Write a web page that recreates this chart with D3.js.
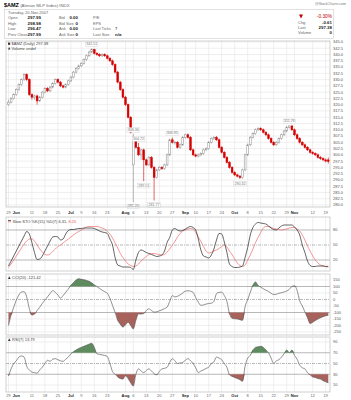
<!DOCTYPE html>
<html>
<head>
<meta charset="utf-8">
<script src="https://cdn.jsdelivr.net/npm/d3@7"></script>
<style>
body { margin: 0; background: #fff; }
svg text { font-family: "Liberation Sans", Arial, sans-serif; }
</style>
</head>
<body>
<script>
// ---- data ----
const tickIdx = [0, 3, 9, 14, 19, 24, 28, 33, 38, 45, 48, 53, 58, 63, 68, 72, 77, 82, 87, 92, 97, 102, 107, 110, 117, 122]
const tickLabels = ["29", "Jun", "11", "18", "25", "Jul", "9", "16", "23", "Aug", "6", "13", "20", "27", "Sep", "10", "17", "24", "Oct", "8", "15", "22", "29", "Nov", "12", "19"]
const monthLabels = ["Jun", "Jul", "Aug", "Sep", "Oct", "Nov"]

const open = [320, 321, 322.5, 324, 326, 328, 330, 332, 330, 324, 323, 323.5, 321.5, 323, 325, 326.5, 325.5, 327, 328.5, 330,
  329, 327.5, 327, 328, 329.5, 331, 333, 334.5, 335.5, 336.5, 338, 339.5, 341, 342, 340.5, 340, 339.5, 340, 339.5, 338.5,
  337.5, 336, 333, 329, 326, 323, 320, 315, 296, 306, 303, 300, 302, 298, 296, 299, 295, 291, 294, 295,
  294.5, 296, 300, 306, 305, 305, 303, 304, 307, 308, 307, 302, 300, 299.5, 300, 300.5, 302, 302.5, 305, 306.5,
  307, 306, 303, 301, 299, 297, 295, 293, 292, 291.5, 291, 294, 300, 304, 307, 308.5, 310, 310.5, 310, 309,
  308, 306.5, 305, 304, 305, 306.5, 308, 309.5, 311, 311.5, 310, 308, 306.5, 305, 304, 303, 302, 301, 300.5, 300,
  299, 298.5, 298, 297.99]
const high = [322, 323, 324.5, 326.5, 328.5, 330.5, 332.5, 332.5, 330.5, 324.5, 324, 324, 323.5, 325.5, 327, 327, 327.5, 329, 330.5, 330.5,
  329.5, 328, 328.5, 330, 331.5, 333.5, 335, 336, 337, 338.5, 340, 341.5, 342.51, 342.3, 341, 340.5, 340.5, 340.5, 340, 339,
  338, 336.5, 333.5, 329.5, 326.5, 323.5, 320.5, 315.5, 308.36, 306.5, 304.72, 302.5, 302.5, 298.5, 299.5, 299.5, 295.5, 294.5, 295.5, 295.5,
  296.5, 300.5, 306.5, 306.9, 305.5, 305.5, 304.5, 307.5, 308.5, 308.5, 307.5, 302.5, 300.5, 300.5, 301, 302.5, 303, 305.5, 307, 307.5,
  307.5, 306.5, 303.5, 301.5, 299.5, 297.5, 295.5, 293.5, 292.5, 292, 294.5, 300.5, 304.5, 307.5, 309, 310.5, 311, 311, 310.5, 309.5,
  308.5, 307, 305.5, 305.5, 307, 308.5, 310, 311.5, 311.76, 312, 310.5, 308.5, 307, 305.5, 304.5, 303.5, 302.5, 301.5, 301, 300.5,
  299.5, 299, 298.5, 298.98]
const low = [319.5, 320.5, 322, 323.5, 325.5, 327.5, 329.5, 329.5, 323.5, 322, 322, 320, 321, 322.5, 324.5, 325, 325, 326.5, 328, 328.5,
  327, 326.5, 326.5, 327.5, 329, 330.5, 332.5, 334, 335, 336, 337.5, 339, 340.5, 340, 339.5, 339, 339, 339, 338, 337,
  335.5, 332.5, 328.5, 325.5, 322.5, 319.5, 314.5, 308.5, 281.2, 302.5, 299.5, 298, 289.51, 295.5, 295.5, 294.5, 281.77, 290.5, 293.5, 294,
  294, 295.5, 299.5, 304.5, 304, 302.5, 302.5, 303.5, 306.5, 306.5, 301.5, 299.5, 299, 299, 299.5, 300, 301.5, 302, 304.5, 306,
  305.5, 302.5, 300.5, 298.5, 296.5, 294.5, 292.5, 291.5, 291, 290.32, 290.5, 293.5, 299.5, 303.5, 306.5, 308, 309.5, 309.5, 308.5, 307.5,
  306, 304.5, 303.5, 303.5, 304.5, 306, 307.5, 309, 310.5, 309.5, 307.5, 306, 304.5, 303.5, 302.5, 301.5, 300.5, 300, 299.5, 298.5,
  298, 297.5, 297, 296.47]
const close = [321, 322.5, 324, 326, 328, 330, 332, 330, 324, 323, 323.5, 321.5, 323, 325, 326.5, 325.5, 327, 328.5, 330, 329,
  327.5, 327, 328, 329.5, 331, 333, 334.5, 335.5, 336.5, 338, 339.5, 341, 342, 340.5, 340, 339.5, 340, 339.5, 338.5, 337.5,
  336, 333, 329, 326, 323, 320, 315, 309, 306, 303, 300, 302, 298, 296, 299, 295, 291, 294, 295, 294.5,
  296, 300, 306, 305, 305, 303, 304, 307, 308, 307, 302, 300, 299.5, 300, 300.5, 302, 302.5, 305, 306.5, 307,
  306, 303, 301, 299, 297, 295, 293, 292, 291.5, 291, 294, 300, 304, 307, 308.5, 310, 310.5, 310, 309, 308,
  306.5, 305, 304, 305, 306.5, 308, 309.5, 311, 311.5, 310, 308, 306.5, 305, 304, 303, 302, 301, 300.5, 300, 299,
  298.5, 298, 297.5, 297.38]

// price labels printed on the chart
const noteIdx = [32, 48, 48, 50, 52, 56, 63, 89, 108]
const noteVal = [342.51, 308.36, 281.20, 304.72, 289.51, 281.77, 306.95, 290.32, 311.76]
const noteSide = ["up", "up", "down", "up", "down", "down", "up", "down", "up"]

const stoK = [8, 18, 28, 38, 48, 58, 68, 77, 72, 55, 35, 21, 22, 28, 38, 48, 58, 66, 67, 66,
  60, 62, 72, 79, 81, 81, 82, 83, 83, 84, 84, 84, 84, 83, 81, 78, 76, 75, 73, 62,
  50, 25, 10, 8, 6, 6, 6, 5, 1, 20, 35, 40, 38, 35, 33, 31, 29, 27, 28, 30,
  38, 55, 65, 80, 83, 80, 78, 79, 82, 85, 87, 85, 80, 62, 40, 28, 26, 24, 30, 42,
  60, 73, 72, 56, 35, 12, 7, 5, 5, 6, 8, 25, 45, 70, 85, 92, 95, 94, 93, 92,
  88, 84, 81, 80, 84, 88, 90, 90, 90, 90, 86, 80, 70, 50, 35, 18, 9, 7, 7, 8,
  8, 8, 7, 6.31]
const stoD = [5, 12, 20, 28, 36, 44, 52, 58, 62, 62, 58, 50, 42, 36, 31, 30, 32, 37, 42, 47,
  50, 54, 58, 62, 66, 70, 74, 77, 80, 83, 86, 87, 87, 87, 87, 86, 84, 82, 77, 72,
  64, 54, 44, 33, 25, 18, 12, 9, 7, 8, 12, 18, 23, 27, 31, 33, 33, 32, 31, 30,
  31, 36, 42, 50, 57, 66, 73, 78, 80, 82, 83, 82, 75, 66, 57, 47, 38, 34, 35, 38,
  40, 43, 47, 50, 46, 38, 31, 22, 14, 9, 7, 10, 20, 30, 42, 55, 65, 75, 84, 87,
  87, 85, 83, 82, 81, 80, 81, 82, 84, 85, 85, 82, 78, 70, 60, 48, 38, 28, 20, 14,
  10, 8, 7, 8.2]
const cci = [-200, -120, -60, -5, 35, 58, 60, 20, -70, -120, -112, -85, -60, -30, -5, 20, 46, 68, 55, 35,
  10, 30, 55, 80, 110, 130, 150, 160, 155, 152, 147, 140, 128, 112, 100, 85, 72, 60, 48, 10,
  -45, -100, -160, -190, -212, -195, -175, -200, -226, -160, -110, -112, -108, -85, -72, -85, -97, -95, -87, -80,
  -70, -59, -15, 30, 20, 25, 36, 50, 65, 67, 64, 55, 15, -20, -45, -42, -35, -31, -28, -15,
  45, 55, 56, 30, -15, -110, -145, -148, -150, -155, -160, -55, 0, 55, 110, 135, 108, 95, 82, 72,
  62, 48, 38, 40, 48, 52, 58, 65, 78, 100, 105, 70, -10, -50, -95, -140, -185, -175, -162, -150,
  -140, -132, -125, -121.42]
const rsi = [27, 40, 50, 55, 62, 64, 62, 45, 38, 34, 33, 32, 38, 43, 50, 56, 54, 58, 59, 57,
  55, 54, 58, 62, 68, 72, 75, 78, 80, 82, 84, 86, 87.5, 80, 68, 67, 66, 65, 63, 50,
  35, 30, 25, 22, 21, 27, 22, 14, 8, 30, 40, 36, 33, 37, 40, 36, 31, 29, 35, 40,
  41, 43, 52, 59, 55, 50, 51, 52, 56, 59, 55, 50, 42, 33, 36, 38, 41, 43, 50, 53,
  62, 60, 57, 50, 43, 29, 26, 24, 22, 20, 17, 45, 60, 65, 75, 80, 81, 82, 80, 75,
  70, 60, 50, 55, 57, 62, 68, 75, 70, 75, 65, 58, 47, 42, 40, 33, 29, 25, 24, 22,
  21, 18, 16, 13.79]

// ---- layout ----
const W = 351, H = 400
const L = 6, R = 330
const pricePane = { top: 41, bottom: 207 }
const stoPane = { top: 217, bottom: 271 }
const cciPane = { top: 274, bottom: 335 }
const rsiPane = { top: 337, bottom: 392 }
const grid = "#e4e4e4", frame = "#bdbdbd", axisText = "#555"

const svg = d3.select("body").append("svg")
  .attr("width", W)
  .attr("height", H)

const x = d3.scaleLinear().domain([0, close.length - 1]).range([8.5, 328.3])

// header
const head = svg.append("text").attr("x", 4).attr("y", 7).attr("font-size", 5.5)
head.append("tspan").attr("font-weight", "bold").text("$AMZ")
head.append("tspan").attr("fill", "#666").attr("font-size", 4.3).text(" (Alerian MLP Index) INDX")
svg.append("text").attr("x", 346).attr("y", 5).attr("text-anchor", "end")
  .attr("font-size", 3.6).attr("fill", "#777").text("@StockCharts.com")

// info box
svg.append("rect").attr("x", 4.5).attr("y", 9.5).attr("width", 329).attr("height", 29)
  .attr("fill", "#fff").attr("stroke", "#ccc").attr("stroke-width", 0.6)
svg.append("text").attr("x", 8).attr("y", 13.5).attr("font-size", 4).attr("fill", "#666").text("Tuesday, 20-Nov-2007")

const infoRows = [
  ["Open", "297.99", "Bid", "0.00", "P/E", ""],
  ["High", "298.98", "Bid Size", "0", "EPS", ""],
  ["Low", "296.47", "Ask", "0.00", "Last Ticks", "\u2020"],
  ["Prev Close", "297.99", "Ask Size", "0", "Last Size", "n/a"]
]
infoRows.forEach((r, k) => {
  const yy = 19.3 + k * 5.4
  svg.append("text").attr("x", 8).attr("y", yy).attr("font-size", 4).attr("fill", "#666").text(r[0])
  svg.append("text").attr("x", 41).attr("y", yy).attr("font-size", 4.4).attr("font-weight", "bold")
    .attr("text-anchor", "end").attr("fill", "#222").text(r[1])
  svg.append("text").attr("x", 59).attr("y", yy).attr("font-size", 4).attr("fill", "#666").text(r[2])
  svg.append("text").attr("x", 78).attr("y", yy).attr("font-size", 4.4).attr("font-weight", "bold")
    .attr("text-anchor", "end").attr("fill", "#222").text(r[3])
  svg.append("text").attr("x", 93).attr("y", yy).attr("font-size", 4).attr("fill", "#666").text(r[4])
  svg.append("text").attr("x", 115).attr("y", yy).attr("font-size", 4.4).attr("font-weight", "bold")
    .attr("fill", "#222").text(r[5])
})
// change block at right
svg.append("path").attr("d", "M299,14.5 L303,14.5 L301,18.5 Z").attr("fill", "#b00")
svg.append("text").attr("x", 332).attr("y", 18.2).attr("text-anchor", "end").attr("font-size", 4.8)
  .attr("fill", "#b00").text("-0.30%")
const chgRows = [["Chg", "-0.61"], ["Last", "297.38"], ["Volume", "0"]]
chgRows.forEach((r, k) => {
  const yy = 23.5 + k * 5.2
  svg.append("text").attr("x", 298).attr("y", yy).attr("font-size", 4).attr("fill", "#666").text(r[0])
  svg.append("text").attr("x", 332).attr("y", yy).attr("text-anchor", "end").attr("font-size", 4.4)
    .attr("font-weight", "bold").attr("fill", "#222").text(r[1])
})

// generic pane with horizontal grid + right labels
function pane(p, y, ticks, fmt, solid, dashed) {
  const g = svg.append("g")
  g.append("rect").attr("x", L).attr("y", p.top).attr("width", R - L).attr("height", p.bottom - p.top)
    .attr("fill", "#fff")
  g.selectAll(".vg").data(tickIdx).join("line")
    .attr("x1", d => x(d)).attr("x2", d => x(d))
    .attr("y1", p.top).attr("y2", p.bottom)
    .attr("stroke", grid).attr("stroke-width", 0.6)
  g.selectAll(".hg").data(ticks).join("line")
    .attr("x1", L).attr("x2", R)
    .attr("y1", d => y(d)).attr("y2", d => y(d))
    .attr("stroke", d => solid.includes(d) ? "#9a9a9a" : grid)
    .attr("stroke-width", d => solid.includes(d) ? 0.7 : 0.6)
  if (dashed !== undefined) {
    g.append("line").attr("x1", L).attr("x2", R)
      .attr("y1", y(dashed)).attr("y2", y(dashed))
      .attr("stroke", "#8a8a8a").attr("stroke-width", 0.6).attr("stroke-dasharray", "3,1,1,1")
  }
  g.selectAll(".lb").data(ticks).join("text")
    .attr("x", R + 3).attr("y", d => y(d) + 1.4)
    .attr("font-size", 4).attr("fill", axisText).text(fmt)
  return g
}
function frameRect(p) {
  svg.append("rect").attr("x", L).attr("y", p.top).attr("width", R - L).attr("height", p.bottom - p.top)
    .attr("fill", "none").attr("stroke", frame).attr("stroke-width", 0.7)
}

// ---- price pane ----
const yP = d3.scaleLinear().domain([280, 345]).range([205, 42])
const priceTicks = d3.range(280, 345.1, 2.5)
pane(pricePane, yP, priceTicks, d => d.toFixed(1), [])

const candles = svg.append("g")
close.forEach((c, i) => {
  const o = open[i]
  const down = c < o
  const col = down ? "#d40000" : "#8a8a8a"
  candles.append("line")
    .attr("x1", x(i)).attr("x2", x(i))
    .attr("y1", yP(high[i])).attr("y2", yP(low[i]))
    .attr("stroke", col).attr("stroke-width", 0.6)
  const top = yP(Math.max(o, c)), bot = yP(Math.min(o, c))
  candles.append("rect")
    .attr("x", x(i) - 0.9).attr("width", 1.8)
    .attr("y", top).attr("height", Math.max(0.6, bot - top))
    .attr("fill", down ? "#d40000" : "#fff")
    .attr("stroke", col).attr("stroke-width", 0.5)
})

noteIdx.forEach((k, j) => {
  const up = noteSide[j] === "up"
  const ty = up ? yP(noteVal[j]) - 3 : yP(noteVal[j]) + 5.5
  const t = svg.append("text").attr("x", x(k)).attr("y", ty).attr("text-anchor", "middle")
    .attr("font-size", 3.6).attr("fill", "#777").text(noteVal[j].toFixed(2))
  const bb = t.node().getBBox()
  svg.insert("rect", () => t.node())
    .attr("x", bb.x - 0.8).attr("y", bb.y - 0.3).attr("width", bb.width + 1.6).attr("height", bb.height + 0.6)
    .attr("fill", "#fff").attr("stroke", "#ccc").attr("stroke-width", 0.4)
})
frameRect(pricePane)

svg.append("rect").attr("x", 8).attr("y", 42.6).attr("width", 2.2).attr("height", 2.2).attr("fill", "#333")
svg.append("text").attr("x", 11.5).attr("y", 45).attr("font-size", 4).attr("fill", "#444").text("$AMZ (Daily) 297.38")
svg.append("path").attr("d", "M8,49.5 L9.2,47 L10.4,49.5 Z").attr("fill", "#333")
svg.append("text").attr("x", 11.5).attr("y", 49.5).attr("font-size", 4).attr("fill", "#444").text("Volume undef")

// date labels between panes
function dateAxis(yy) {
  svg.append("g").selectAll("text").data(tickIdx).join("text")
    .attr("x", d => x(d)).attr("y", yy).attr("text-anchor", "middle")
    .attr("font-size", 4)
    .attr("font-weight", (d, i) => monthLabels.includes(tickLabels[i]) ? "bold" : "normal")
    .attr("fill", (d, i) => monthLabels.includes(tickLabels[i]) ? "#222" : "#666")
    .text((d, i) => tickLabels[i])
}
dateAxis(214)
dateAxis(397)

// ---- slow stochastic ----
const yS = d3.scaleLinear().domain([0, 100]).range([270, 220])
pane(stoPane, yS, [20, 80], d => d, [20, 80], 50)
svg.append("text").attr("x", R + 3).attr("y", yS(50) + 1.4).attr("font-size", 4).attr("fill", axisText).text("50")
const lineS = v => d3.line().x((d, i) => x(i)).y(d => yS(d)).curve(d3.curveMonotoneX)(v)
svg.append("path").attr("d", lineS(stoD)).attr("fill", "none").attr("stroke", "#ee6a6a").attr("stroke-width", 0.7)
svg.append("path").attr("d", lineS(stoK)).attr("fill", "none").attr("stroke", "#222").attr("stroke-width", 0.7)
frameRect(stoPane)
svg.append("line").attr("x1", 8).attr("x2", 11).attr("y1", 220.5).attr("y2", 220.5).attr("stroke", "#222").attr("stroke-width", 0.7)
svg.append("line").attr("x1", 8).attr("x2", 11).attr("y1", 221.8).attr("y2", 221.8).attr("stroke", "#ee6a6a").attr("stroke-width", 0.7)
const stoT = svg.append("text").attr("x", 12.5).attr("y", 222.5).attr("font-size", 4).attr("fill", "#444")
stoT.append("tspan").text("Slow STO %K(15) %D(7) 6.31, ")
stoT.append("tspan").attr("fill", "#e55").text("8.20")

// ---- CCI ----
const yC = d3.scaleLinear().domain([-250, 150]).range([332, 280])
pane(cciPane, yC, [150, 100, 50, -50, -100, -150, -200, -250], d => d, [100, -100], 0)
svg.append("text").attr("x", R + 3).attr("y", yC(0) + 1.4).attr("font-size", 4).attr("fill", axisText).text("0")

function bandFill(vals, y, lvl, above, col) {
  const a = d3.area().x((d, i) => x(i))
    .y0(y(lvl))
    .y1(d => y(above ? Math.max(d, lvl) : Math.min(d, lvl)))
    .curve(d3.curveMonotoneX)
  svg.append("path").attr("d", a(vals)).attr("fill", col).attr("stroke", "none")
}
bandFill(cci, yC, 100, true, "#5e8c5e")
bandFill(cci, yC, -100, false, "#a8625c")
svg.append("path").attr("d", d3.line().x((d, i) => x(i)).y(d => yC(d)).curve(d3.curveMonotoneX)(cci))
  .attr("fill", "none").attr("stroke", "#555").attr("stroke-width", 0.65)
frameRect(cciPane)
svg.append("path").attr("d", "M8,279 L9.3,276.3 L10.6,279 Z").attr("fill", "#333")
svg.append("text").attr("x", 12).attr("y", 279.2).attr("font-size", 4).attr("fill", "#444").text("CCI(20) -121.42")

// ---- RSI ----
const yR = d3.scaleLinear().domain([10, 90]).range([385, 342])
pane(rsiPane, yR, [90, 70, 30, 10], d => d, [70, 30], 50)
svg.append("text").attr("x", R + 3).attr("y", yR(50) + 1.4).attr("font-size", 4).attr("fill", axisText).text("50")
bandFill(rsi, yR, 70, true, "#5e8c5e")
bandFill(rsi, yR, 30, false, "#a8625c")
svg.append("path").attr("d", d3.line().x((d, i) => x(i)).y(d => yR(d)).curve(d3.curveMonotoneX)(rsi))
  .attr("fill", "none").attr("stroke", "#555").attr("stroke-width", 0.65)
frameRect(rsiPane)
svg.append("path").attr("d", "M8,341 L9.3,338.3 L10.6,341 Z").attr("fill", "#333")
svg.append("text").attr("x", 12).attr("y", 341.2).attr("font-size", 4).attr("fill", "#444").text("RSI(7) 13.79")
</script>
</body>
</html>
